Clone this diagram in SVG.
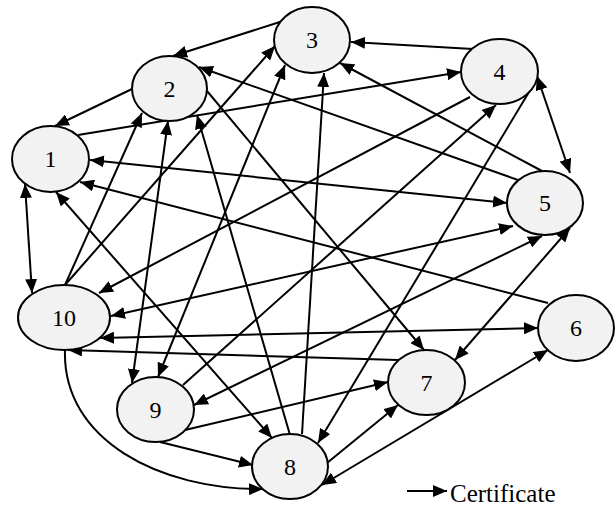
<svg xmlns="http://www.w3.org/2000/svg" width="615" height="506" viewBox="0 0 615 506">
<style>
.n ellipse{fill:#f2f2f2;stroke:#000;stroke-width:2}
.n text{font-family:"Liberation Serif","Times New Roman",serif;font-size:24px;text-anchor:middle;fill:#000}
.e path{fill:none;stroke:#000;stroke-width:2}
.u{marker-end:url(#ah)}
.b{marker-start:url(#ah);marker-end:url(#ah)}
.lg{font-family:"Liberation Serif","Times New Roman",serif;font-size:25px;fill:#000}
</style>
<defs>
<marker id="ah" markerUnits="userSpaceOnUse" markerWidth="14" markerHeight="12" refX="14" refY="6" orient="auto-start-reverse">
<path d="M0,0 L14,6 L0,12 z" fill="#000"/>
</marker>
</defs>
<rect width="615" height="506" fill="#fff"/>
<g id="edges" class="e">
<path class="u" d="M283,21 L173,56"/>
<path class="u" d="M132,89 L55,126"/>
<path class="u" d="M78,135 L461,72"/>
<path class="u" d="M473,49 L351,42"/>
<path class="b" d="M537,76 L570,173"/>
<path class="u" d="M542,171 L340,63"/>
<path class="u" d="M518,180 L199,67"/>
<path class="b" d="M90,160 L507,203"/>
<path class="u" d="M548,303 L80,182"/>
<path class="b" d="M25,184 L32,293"/>
<path class="u" d="M65,285 L142,113"/>
<path class="u" d="M65,285 L275,46"/>
<path class="b" d="M168,121 L132,383"/>
<path class="u" d="M290,435 L197,115"/>
<path class="u" d="M207,91 L424,350"/>
<path class="u" d="M302,434 L324,73"/>
<path class="b" d="M285,65 L158,377"/>
<path class="u" d="M470,97 L99,293"/>
<path class="b" d="M111,316 L513,226"/>
<path class="u" d="M183,385 L496,105"/>
<path class="u" d="M529,92 L318,443"/>
<path class="b" d="M194,405 L542,236"/>
<path class="b" d="M570,228 L455,360"/>
<path class="b" d="M538,328 L100,338"/>
<path class="u" d="M398,360 L68,350"/>
<path class="u" d="M185,430 L388,382"/>
<path class="u" d="M160,442 L253,465"/>
<path class="u" d="M65,350 C62,440 160,490 263,489"/>
<path class="u" d="M327,463 L398,405"/>
<path class="b" d="M322,485 L548,350"/>
<path class="b" d="M56,192 L272,438"/>
</g>
<g id="node1" class="n"><ellipse cx="50.5" cy="159" rx="38.5" ry="33"/><text x="50.5" y="167">1</text></g>
<g id="node2" class="n"><ellipse cx="169.5" cy="88.5" rx="37.5" ry="32.5"/><text x="169.5" y="96.5">2</text></g>
<g id="node3" class="n"><ellipse cx="312" cy="40" rx="38" ry="33"/><text x="312" y="48">3</text></g>
<g id="node4" class="n"><ellipse cx="499.5" cy="71.5" rx="38.5" ry="32.5"/><text x="499.5" y="79.5">4</text></g>
<g id="node5" class="n"><ellipse cx="545" cy="203" rx="38" ry="32"/><text x="545" y="211">5</text></g>
<g id="node6" class="n"><ellipse cx="576" cy="328" rx="38" ry="33"/><text x="576" y="336">6</text></g>
<g id="node7" class="n"><ellipse cx="426.5" cy="382.5" rx="38.5" ry="32.5"/><text x="426.5" y="390.5">7</text></g>
<g id="node8" class="n"><ellipse cx="290" cy="466.5" rx="38" ry="32.5"/><text x="290" y="474.5">8</text></g>
<g id="node9" class="n"><ellipse cx="155.5" cy="409.5" rx="38.5" ry="32.5"/><text x="155.5" y="417.5">9</text></g>
<g id="node10" class="n"><ellipse cx="64" cy="317.5" rx="46" ry="32.5"/><text x="64" y="325.5">10</text></g>
<g id="legend">
<path d="M407,491 L447,491" stroke="#000" stroke-width="2" marker-end="url(#ah)"/>
<text class="lg" x="450" y="502">Certificate</text>
</g>
</svg>
